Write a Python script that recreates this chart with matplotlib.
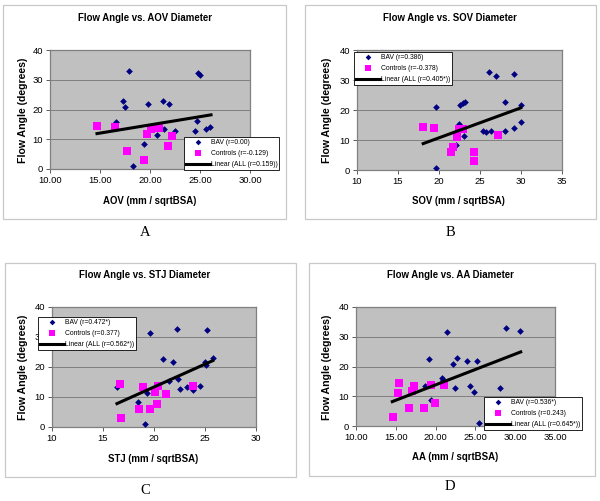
import matplotlib
matplotlib.use('Agg')
import matplotlib.pyplot as plt
from matplotlib.patches import Rectangle

plt.rcParams['font.family'] = ['Liberation Sans', 'DejaVu Sans']

# ---------------- data ----------------
# Panel A: AOV
aov_bav_x = [17.87, 24.83, 25.03, 17.3, 17.47, 19.77, 21.33, 21.87, 16.63, 24.67,
             21.37, 22.53, 24.53, 25.63, 26.03, 20.73, 19.43, 18.3]
aov_bav_y = [32.8, 32.2, 31.5, 22.9, 20.8, 21.7, 22.7, 21.7, 15.7, 16.0,
             13.3, 12.8, 12.9, 13.3, 14.0, 11.4, 8.5, 0.9]
aov_ctrl_x = [14.73, 16.5, 19.67, 20.1, 20.93, 22.23, 21.83, 17.67, 19.37]
aov_ctrl_y = [14.3, 14.1, 11.7, 13.4, 13.9, 11.1, 7.7, 6.05, 3.0]
aov_fit_x = [14.7, 26.1]
aov_fit_y = [11.9, 18.2]

# Panel B: SOV
sov_bav_x = [26.1, 26.97, 29.2, 19.6, 22.6, 22.9, 23.2, 28.0, 29.96, 22.38,
             29.96, 25.4, 25.74, 26.3, 28.07, 29.1, 23.0, 22.1, 19.63]
sov_bav_y = [32.8, 31.4, 32.1, 20.9, 21.6, 22.2, 22.7, 22.8, 21.8, 15.4,
             16.0, 12.9, 12.8, 13.1, 13.1, 13.9, 11.2, 8.4, 0.8]
sov_ctrl_x = [18.07, 19.39, 22.4, 22.9, 22.2, 21.76, 21.43, 24.3, 24.3, 27.25]
sov_ctrl_y = [14.3, 13.9, 13.6, 13.8, 11.0, 7.7, 6.0, 6.0, 2.9, 11.6]
sov_fit_x = [18.07, 29.96]
sov_fit_y = [8.8, 20.7]

# Panel C: STJ
stj_bav_x = [19.6, 22.3, 25.23, 20.9, 21.83, 25.0, 25.07, 25.75, 21.44, 22.35,
             22.5, 23.27, 23.8, 24.5, 16.4, 19.3, 18.46, 19.15]
stj_bav_y = [31.5, 32.7, 32.2, 22.8, 21.8, 21.7, 20.7, 22.9, 15.5, 16.1,
             12.8, 13.5, 12.5, 13.8, 13.2, 11.2, 8.5, 1.0]
stj_ctrl_x = [16.63, 18.89, 20.36, 20.13, 21.2, 23.86, 18.56, 19.6, 20.33, 16.73]
stj_ctrl_y = [14.3, 13.4, 13.8, 11.6, 10.9, 13.8, 6.0, 5.9, 7.6, 2.9]
stj_fit_x = [16.37, 25.75]
stj_fit_y = [7.8, 22.1]

# Panel D: AA
aa_bav_x = [21.37, 28.89, 30.57, 19.18, 22.75, 23.97, 25.23, 22.16, 20.8, 20.9,
            18.63, 22.42, 24.26, 24.77, 28.13, 19.43, 25.4]
aa_bav_y = [31.6, 32.8, 32.1, 22.6, 22.7, 21.7, 21.8, 20.8, 16.1, 15.5,
            13.5, 12.7, 13.3, 11.3, 12.9, 8.8, 0.9]
aa_ctrl_x = [15.4, 15.32, 17.0, 17.29, 19.39, 21.07, 16.66, 18.5, 19.9, 14.6]
aa_ctrl_y = [14.5, 11.0, 11.8, 13.3, 13.9, 13.7, 6.1, 6.1, 7.6, 2.9]
aa_fit_x = [14.56, 30.69]
aa_fit_y = [8.2, 24.9]

y_ticks = [0, 10, 20, 30, 40]
aov_xticks = [10, 15, 20, 25, 30]
sov_xticks = [10, 15, 20, 25, 30, 35]
stj_xticks = [10, 15, 20, 25, 30]
aa_xticks = [10, 15, 20, 25, 30, 35]

titles = ['Flow Angle vs. AOV Diameter', 'Flow Angle vs. SOV Diameter',
          'Flow Angle vs. STJ Diameter', 'Flow Angle vs. AA Diameter']
xlabels = ['AOV (mm / sqrtBSA)', 'SOV (mm / sqrtBSA)',
           'STJ (mm / sqrtBSA)', 'AA (mm / sqrtBSA)']
ylabel = 'Flow Angle (degrees)'
legend_labels = [
    ['BAV (r=0.00)', 'Controls (r=-0.129)', 'Linear (ALL (r=0.159))'],
    ['BAV (r=0.386)', 'Controls (r=-0.378)', 'Linear (ALL (r=0.405*))'],
    ['BAV (r=0.472*)', 'Controls (r=0.377)', 'Linear (ALL (r=0.562*))'],
    ['BAV (r=0.536*)', 'Controls (r=0.243)', 'Linear (ALL (r=0.645*))'],
]
panel_letters = ['A', 'B', 'C', 'D']

# ---------------- layout (pixels) ----------------
W, H = 600, 501
fig = plt.figure(figsize=(6.0, 5.01), dpi=100)
fig.patch.set_facecolor('white')

def fx(px):
    return px / W

def fy(py):
    return 1 - py / H

panels = [
    dict(bx=aov_bav_x, by=aov_bav_y, cx=aov_ctrl_x, cy=aov_ctrl_y, lx=aov_fit_x, ly=aov_fit_y,
         xticks=aov_xticks, fmt='{:.2f}', area=(50, 50, 250, 169), frame=(3, 5, 286, 219),
         title=(145, 18), xlab=(150, 201), ylab=(23, 110), letter=(145, 232),
         leg=(184, 137)),
    dict(bx=sov_bav_x, by=sov_bav_y, cx=sov_ctrl_x, cy=sov_ctrl_y, lx=sov_fit_x, ly=sov_fit_y,
         xticks=sov_xticks, fmt='{:.0f}', area=(357, 50, 562, 170), frame=(305, 5, 596, 219),
         title=(450, 18), xlab=(458, 201), ylab=(327, 110), letter=(450, 232),
         leg=(354, 52)),
    dict(bx=stj_bav_x, by=stj_bav_y, cx=stj_ctrl_x, cy=stj_ctrl_y, lx=stj_fit_x, ly=stj_fit_y,
         xticks=stj_xticks, fmt='{:.0f}', area=(52, 307, 256, 427), frame=(5, 263, 296, 477),
         title=(145, 275), xlab=(153, 459), ylab=(23, 367), letter=(145, 490),
         leg=(38, 317)),
    dict(bx=aa_bav_x, by=aa_bav_y, cx=aa_ctrl_x, cy=aa_ctrl_y, lx=aa_fit_x, ly=aa_fit_y,
         xticks=aa_xticks, fmt='{:.2f}', area=(356, 307, 555, 426), frame=(309, 263, 595, 476),
         title=(450, 275), xlab=(455, 457), ylab=(327, 367), letter=(450, 486),
         leg=(484, 397)),
]

for i, p in enumerate(panels):
    # outer frame
    x0, y0, x1, y1 = p['frame']
    fig.patches.append(Rectangle((fx(x0), fy(y1)), (x1 - x0) / W, (y1 - y0) / H,
                                 transform=fig.transFigure, fill=False,
                                 edgecolor='#c8c8c8', linewidth=0.9))
    ax0, ay0, ax1, ay1 = p['area']
    ax = fig.add_axes([fx(ax0), fy(ay1), (ax1 - ax0) / W, (ay1 - ay0) / H])
    ax.set_facecolor('#c0c0c0')
    xt = p['xticks']
    ax.set_xlim(xt[0], xt[-1])
    ax.set_ylim(0, 40)
    ax.set_xticks(xt)
    ax.set_xticklabels([p['fmt'].format(v) for v in xt])
    ax.set_yticks(y_ticks)
    ax.set_yticklabels([str(v) for v in y_ticks])
    ax.tick_params(axis='both', direction='out', length=3, width=0.6, color='#404040',
                   labelsize=6.8, pad=2)
    ax.yaxis.grid(True, color='#808080', linewidth=0.7)
    ax.set_axisbelow(True)
    for s in ax.spines.values():
        s.set_color('#808080')
        s.set_linewidth(0.9)

    h1, = ax.plot(p['bx'], p['by'], linestyle='none', marker='D', markersize=3.4,
                  color='#000080', markeredgewidth=0, zorder=3)
    h2, = ax.plot(p['cx'], p['cy'], linestyle='none', marker='s', markersize=5.2,
                  color='#ff00ff', markeredgewidth=0, zorder=3)
    h3, = ax.plot(p['lx'], p['ly'], color='black', linewidth=2.2, zorder=4)

    lx, ly = p['leg']
    leg = ax.legend([h1, h2, h3], legend_labels[i], loc='upper left',
                    bbox_to_anchor=(fx(lx), fy(ly)), bbox_transform=fig.transFigure,
                    borderaxespad=0, fontsize=4.9, frameon=True, fancybox=False,
                    framealpha=1, edgecolor='black', handlelength=3.5,
                    handletextpad=0.1, labelspacing=0.6, borderpad=0.3,
                    numpoints=1, markerscale=0.85)
    leg.get_frame().set_linewidth(0.6)
    leg.set_zorder(10)

    tx, ty = p['title']
    fig.text(fx(tx), fy(ty), titles[i], ha='center', va='center', fontsize=6.9,
             fontweight='bold')
    xx, xy = p['xlab']
    fig.text(fx(xx), fy(xy), xlabels[i], ha='center', va='center', fontsize=6.9,
             fontweight='bold')
    yx, yy = p['ylab']
    fig.text(fx(yx), fy(yy), ylabel, ha='center', va='center', fontsize=7.6,
             fontweight='bold', rotation=90)
    lx2, ly2 = p['letter']
    fig.text(fx(lx2), fy(ly2), panel_letters[i], ha='center', va='center',
             fontsize=10.5, family=['Liberation Serif', 'DejaVu Serif'])

fig.savefig('out.png', dpi=100)
